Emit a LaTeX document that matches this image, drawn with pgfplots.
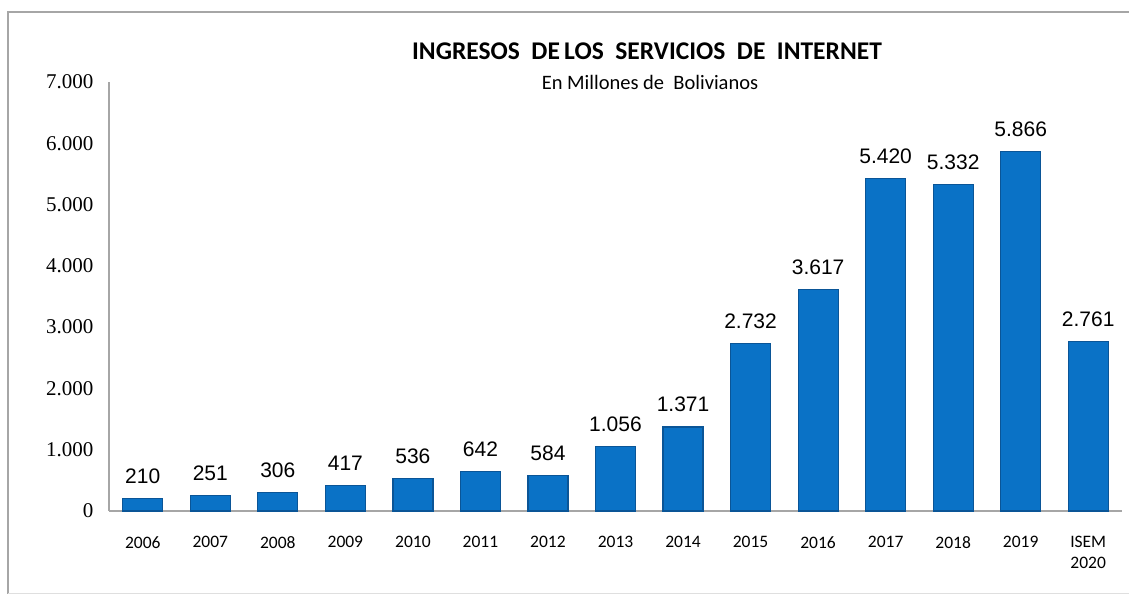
\documentclass[border=0pt]{standalone}
\usepackage{fontspec}
\usepackage{pgfplots}
\pgfplotsset{compat=1.18}
\setmainfont{Liberation Sans}
\newfontfamily\carlito{Carlito}
\newfontfamily\lserif{Liberation Serif}
\definecolor{barmid}{HTML}{0A72C6}
\definecolor{baredge}{HTML}{0A5597}
\definecolor{axgray}{HTML}{A6A6A6}
\begin{document}
\begin{tikzpicture}[x=1pt,y=1pt]
\useasboundingbox (0,0) rectangle (1129,596);
\fill[white] (0,0) rectangle (1129,596);
\draw[axgray, line width=2pt] (8,2) -- (8,584) -- (1135,584);
\draw[gray!25, line width=1pt] (8,2) -- (1135,2);
\begin{axis}[
  at={(109pt,85pt)}, anchor=south west, scale only axis,
  width=1013pt, height=429pt,
  xmin=-0.5, xmax=14.5, ymin=0, ymax=7000,
  axis x line*=bottom, axis y line*=left,
  axis line style={axgray, line width=1.5pt, -},
  ytick={0,1000,...,7000},
  xtick={0,...,14},
  xticklabels={2006,2007,2008,2009,2010,2011,2012,2013,2014,2015,2016,2017,2018,2019,{ISEM\\2020}},
  major tick length=0pt,
  /pgf/number format/.cd, 1000 sep={.}, assume math mode=true, /pgfplots/.cd,
  yticklabel style={font=\lserif\fontsize{21}{21}\selectfont, xshift=-12pt},
  xticklabel style={font=\carlito\fontsize{17.5}{21}\selectfont, align=center, yshift=-22pt, anchor=north},
  ybar, bar width=40pt,
  clip=false,
]
\addplot[ybar, fill=barmid, draw=baredge, line width=1.2pt,
  nodes near coords,
  nodes near coords style={font=\fontsize{21}{21}\selectfont, anchor=base, yshift=15pt, text=black}]
  coordinates {(0,210) (1,251) (2,306) (3,417) (4,536) (5,642) (6,584) (7,1056) (8,1371) (9,2732) (10,3617) (11,5420) (12,5332) (13,5866) (14,2761)};
\end{axis}
\node[font=\carlito\bfseries\fontsize{25.5}{25.5}\selectfont, anchor=base] at (647,536) {INGRESOS\ \ DE\,LOS\ \ SERVICIOS\ \ DE\ \ INTERNET};
\node[font=\carlito\fontsize{20.5}{20.5}\selectfont, anchor=base] at (650,506) {En Millones de\ \ Bolivianos};
\end{tikzpicture}
\end{document}
